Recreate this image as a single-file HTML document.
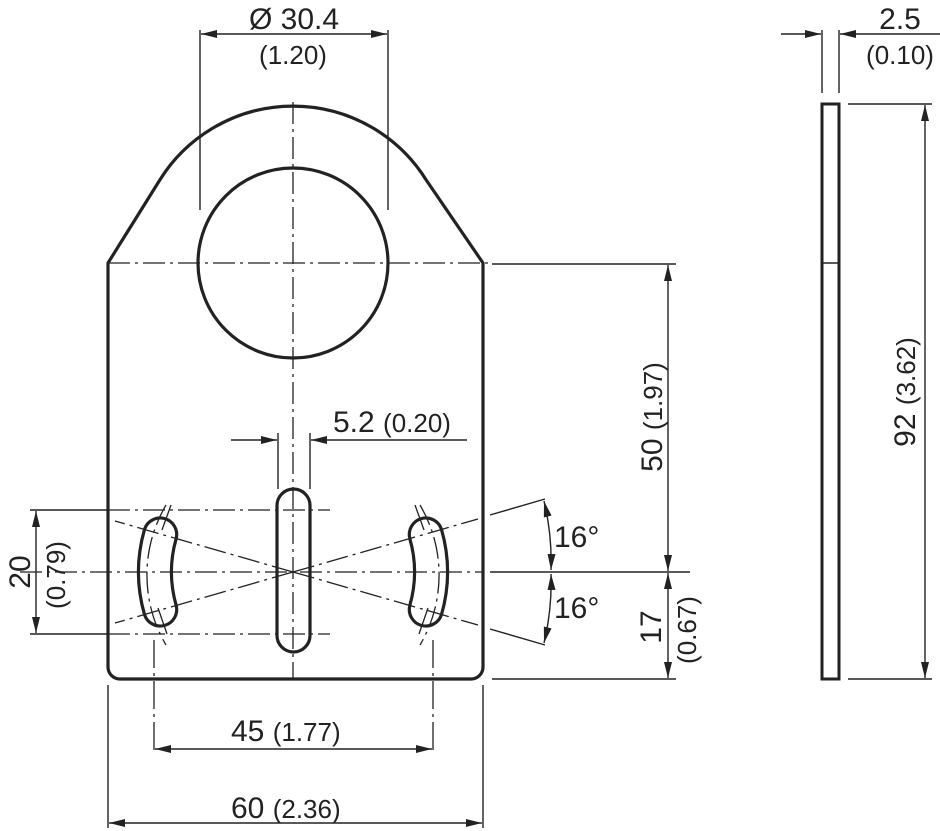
<!DOCTYPE html>
<html><head><meta charset="utf-8"><style>
html,body{margin:0;padding:0;background:#fff;}
svg{display:block;}
text{font-family:"Liberation Sans",Arial,sans-serif;fill:#222;}
</style></head><body>
<svg width="940" height="831" viewBox="0 0 940 831" xmlns="http://www.w3.org/2000/svg">
<defs>
<marker id="a" viewBox="0 0 16 8" refX="16" refY="4" markerWidth="16" markerHeight="8" markerUnits="userSpaceOnUse" orient="auto-start-reverse"><path d="M0,0 L16,4 L0,8 Z" fill="#222"/></marker>
</defs>
<g stroke="#222" fill="none">
<path d="M108,263 L159.8,180 A157,157 0 0 1 426.2,180 L483,263 L483,667 A12,12 0 0 1 471,679 L120,679 A12,12 0 0 1 108,667 Z" stroke-width="3.2" stroke-linejoin="round"/>
<circle cx="293" cy="263" r="95" stroke-width="3.2"/>
<rect x="277" y="489" width="33" height="163" rx="16.5" stroke-width="3.2"/>
<path d="M144.5,529.4 A154.5,154.5 0 0 0 144.5,614.6 A16.5,16.5 0 0 0 176.2,605.5 A121.5,121.5 0 0 1 176.2,538.5 A16.5,16.5 0 0 0 144.5,529.4 Z" stroke-width="3.2"/>
<path d="M441.5,529.4 A154.5,154.5 0 0 1 441.5,614.6 A16.5,16.5 0 0 1 409.8,605.5 A121.5,121.5 0 0 0 409.8,538.5 A16.5,16.5 0 0 1 441.5,529.4 Z" stroke-width="3.2"/>

<g stroke-width="1.3" stroke-dasharray="22,5,3,5">
<line x1="108" y1="263" x2="488" y2="263"/>
<line x1="293" y1="102" x2="293" y2="679"/>
<line x1="20" y1="572" x2="483" y2="572"/>
<line x1="108" y1="510" x2="330" y2="510"/>
<line x1="108" y1="634" x2="330" y2="634"/>
<line x1="293" y1="572" x2="478" y2="519"/>
<line x1="293" y1="572" x2="478" y2="625"/>
<line x1="293" y1="572" x2="115" y2="521"/>
<line x1="293" y1="572" x2="115" y2="623"/>
<path d="M166,505 A138,138 0 0 0 166,645"/>
<path d="M420,505 A138,138 0 0 1 420,645"/>
</g>
<line x1="171" y1="505" x2="162" y2="530" stroke-width="1.3"/>
<line x1="415" y1="505" x2="424" y2="530" stroke-width="1.3"/>
<line x1="158" y1="608" x2="167" y2="634" stroke-width="1.3"/>
<line x1="428" y1="608" x2="419" y2="634" stroke-width="1.3"/>
<line x1="154" y1="640" x2="154" y2="755" stroke-width="1.3" stroke-dasharray="28,5,3,5"/>
<line x1="433" y1="640" x2="433" y2="755" stroke-width="1.3" stroke-dasharray="28,5,3,5"/>

<g stroke-width="1.4">
<line x1="200" y1="30" x2="200" y2="210"/>
<line x1="388" y1="30" x2="388" y2="210"/>
<line x1="201" y1="34" x2="387" y2="34" marker-start="url(#a)" marker-end="url(#a)"/>
<line x1="278" y1="433" x2="278" y2="489"/>
<line x1="310" y1="433" x2="310" y2="489"/>
<line x1="231" y1="440" x2="277" y2="440" marker-end="url(#a)"/>
<line x1="467" y1="440" x2="311" y2="440" marker-end="url(#a)"/>
<line x1="30" y1="510" x2="108" y2="510"/>
<line x1="30" y1="634" x2="108" y2="634"/>
<line x1="36" y1="511" x2="36" y2="633" marker-start="url(#a)" marker-end="url(#a)"/>
<line x1="492" y1="264" x2="676" y2="264"/>
<line x1="490" y1="572" x2="690" y2="572"/>
<line x1="492" y1="679" x2="676" y2="679"/>
<line x1="668" y1="265" x2="668" y2="571" marker-start="url(#a)" marker-end="url(#a)"/>
<line x1="668" y1="573" x2="668" y2="678" marker-start="url(#a)" marker-end="url(#a)"/>
<line x1="490" y1="515" x2="545" y2="499"/>
<line x1="490" y1="629" x2="545" y2="645"/>
<path d="M544,501 A258,258 0 0 1 551,570" marker-start="url(#a)" marker-end="url(#a)"/>
<path d="M551,574 A258,258 0 0 1 544,643" marker-start="url(#a)" marker-end="url(#a)"/>
<line x1="155" y1="749" x2="432" y2="749" marker-start="url(#a)" marker-end="url(#a)"/>
<line x1="108" y1="685" x2="108" y2="828"/>
<line x1="483" y1="685" x2="483" y2="828"/>
<line x1="109" y1="823" x2="482" y2="823" marker-start="url(#a)" marker-end="url(#a)"/>
<line x1="822" y1="30" x2="822" y2="93"/>
<line x1="839" y1="30" x2="839" y2="93"/>
<line x1="781" y1="34" x2="821" y2="34" marker-end="url(#a)"/>
<line x1="940" y1="34" x2="840" y2="34" marker-end="url(#a)"/>
<line x1="848" y1="104" x2="932" y2="104"/>
<line x1="848" y1="679" x2="932" y2="679"/>
<line x1="925" y1="105" x2="925" y2="678" marker-start="url(#a)" marker-end="url(#a)"/>
</g>
<rect x="822" y="104" width="17" height="575" stroke-width="3"/>
<line x1="822" y1="263" x2="839" y2="263" stroke-width="1.4"/>
</g>

<text x="294" y="29" font-size="30" text-anchor="middle">Ø 30.4</text>
<text x="293" y="64" font-size="26" text-anchor="middle">(1.20)</text>
<text x="333" y="432" font-size="30">5.2 <tspan font-size="26">(0.20)</tspan></text>
<text x="231" y="741" font-size="30">45 <tspan font-size="26">(1.77)</tspan></text>
<text x="231" y="818" font-size="30">60 <tspan font-size="26">(2.36)</tspan></text>
<text x="554" y="547" font-size="30">16°</text>
<text x="554" y="618" font-size="30">16°</text>
<text x="900" y="29" font-size="30" text-anchor="middle">2.5</text>
<text x="900" y="64" font-size="26" text-anchor="middle">(0.10)</text>
<text transform="translate(662,417) rotate(-90)" font-size="30" text-anchor="middle">50 <tspan font-size="26">(1.97)</tspan></text>
<text transform="translate(915,392) rotate(-90)" font-size="30" text-anchor="middle">92 <tspan font-size="26">(3.62)</tspan></text>
<text transform="translate(30,572) rotate(-90)" font-size="30" text-anchor="middle">20</text>
<text transform="translate(65,575) rotate(-90)" font-size="26" text-anchor="middle">(0.79)</text>
<text transform="translate(661,627) rotate(-90)" font-size="30" text-anchor="middle">17</text>
<text transform="translate(696,630) rotate(-90)" font-size="26" text-anchor="middle">(0.67)</text>
</svg>
</body></html>
